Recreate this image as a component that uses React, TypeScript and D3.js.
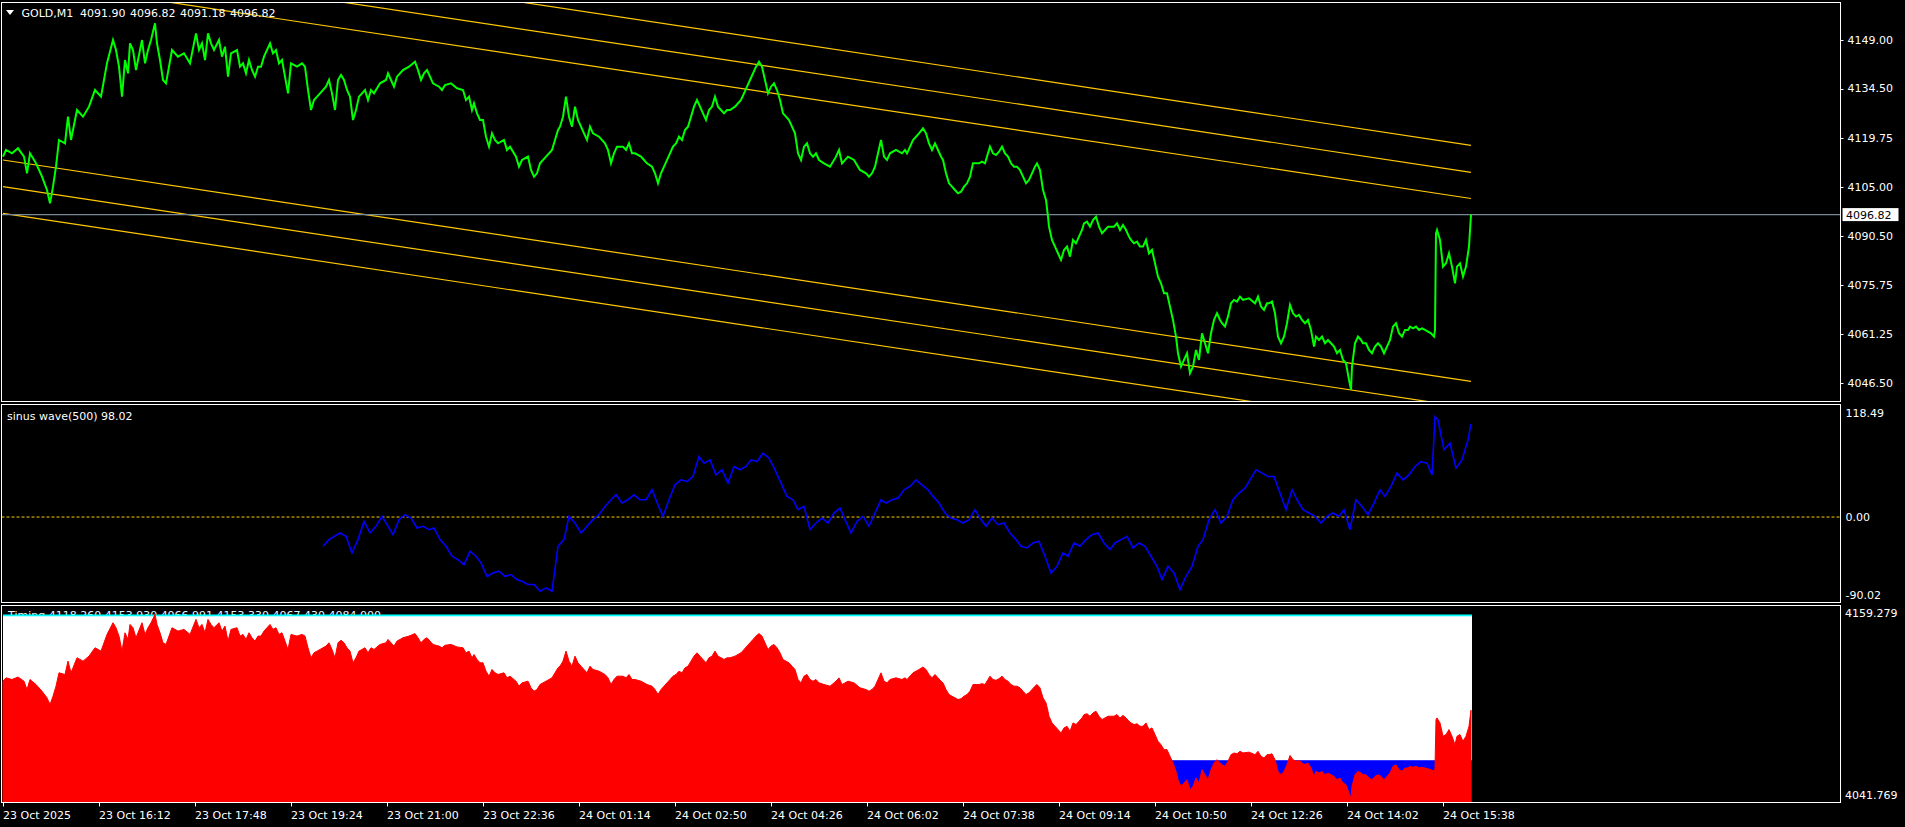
import React, { useEffect } from 'react';
import * as d3 from 'd3';

// ---------- DATA ----------
const LAST_BAR = 1468; // M1 bars, bar 0 = 23 Oct 14:36

const priceSeries: [number, number][] = [
  [0,4114.14],[3,4116.13],[9,4115.13],[15,4116.63],[21,4114.14],[24,4109.16],[27,4115.13],[33,4112.15],[39,4108.16],[44,4104.18],[47,4100.19],[50,4105.17],[53,4111.15],[56,4119.12],[62,4118.12],[65,4126.09],[68,4119.12],[74,4128.08],[80,4126.09],[86,4129.08],[92,4134.06],[98,4132.07],[104,4142.03],[110,4149.00],[113,4146.01],[116,4141.03],[119,4132.07],[122,4143.02],[125,4139.04],[127,4148.00],[130,4146.01],[133,4140.03],[139,4149.00],[142,4142.03],[145,4146.01],[148,4149.00],[152,4153.98],[154,4148.00],[157,4143.02],[160,4137.05],[163,4136.05],[166,4141.03],[169,4146.01],[175,4144.02],[181,4145.01],[187,4142.03],[193,4150.99],[196,4146.01],[199,4148.00],[202,4143.02],[205,4150.99],[208,4148.00],[211,4146.01],[216,4149.00],[219,4144.02],[222,4147.01],[225,4138.04],[228,4145.01],[234,4146.01],[237,4141.03],[240,4142.03],[243,4139.04],[246,4143.02],[249,4140.03],[252,4138.04],[255,4141.03],[258,4141.03],[261,4144.02],[267,4148.00],[270,4145.01],[273,4146.01],[276,4142.03],[279,4143.02],[282,4138.04],[285,4133.06],[288,4142.03],[294,4141.03],[299,4142.03],[302,4141.03],[305,4134.06],[308,4128.08],[311,4131.07],[317,4133.06],[323,4135.05],[326,4137.05],[329,4133.06],[332,4128.08],[335,4137.05],[338,4138.54],[341,4137.05],[344,4134.06],[347,4132.07],[350,4125.09],[353,4128.08],[356,4132.07],[359,4133.06],[362,4134.06],[365,4131.07],[368,4134.06],[371,4133.06],[377,4136.05],[383,4137.05],[385,4139.04],[388,4137.05],[391,4135.05],[394,4138.04],[397,4139.04],[400,4140.03],[406,4141.03],[412,4142.52],[415,4140.03],[418,4137.05],[421,4139.04],[424,4140.03],[427,4138.04],[430,4136.05],[436,4135.05],[439,4134.06],[442,4135.55],[448,4136.05],[454,4134.56],[460,4134.06],[463,4131.07],[466,4132.07],[469,4128.08],[471,4130.07],[474,4127.08],[477,4125.09],[480,4125.09],[483,4120.11],[486,4117.12],[489,4121.11],[492,4119.12],[495,4118.12],[501,4119.12],[504,4116.13],[507,4117.12],[513,4114.14],[516,4111.15],[519,4113.14],[525,4114.14],[528,4110.15],[531,4108.16],[534,4109.16],[537,4112.15],[543,4114.14],[546,4115.13],[549,4116.13],[552,4119.12],[555,4122.10],[557,4123.10],[560,4126.09],[563,4132.07],[566,4126.09],[569,4123.10],[572,4129.08],[575,4125.09],[578,4123.10],[581,4121.11],[584,4119.12],[587,4123.10],[590,4121.11],[596,4120.11],[602,4118.12],[605,4116.13],[608,4112.15],[611,4115.13],[614,4117.12],[620,4117.12],[623,4116.13],[626,4118.12],[629,4115.13],[632,4115.13],[638,4114.14],[641,4113.14],[644,4112.15],[649,4111.15],[652,4109.16],[655,4106.17],[658,4109.16],[661,4111.15],[667,4115.13],[670,4117.12],[673,4118.12],[676,4120.11],[679,4119.12],[682,4122.10],[685,4123.10],[688,4126.09],[691,4129.08],[694,4131.07],[697,4129.08],[700,4127.08],[703,4125.09],[706,4128.08],[709,4129.08],[712,4132.07],[715,4129.08],[718,4128.08],[721,4127.08],[724,4128.08],[727,4128.08],[732,4129.08],[738,4131.07],[741,4133.06],[744,4135.05],[747,4137.05],[750,4139.04],[753,4141.03],[756,4142.52],[759,4141.03],[762,4137.05],[765,4133.06],[768,4135.05],[771,4136.05],[774,4134.06],[777,4131.07],[780,4127.08],[783,4126.09],[786,4125.09],[789,4123.10],[792,4121.11],[795,4115.13],[798,4113.14],[801,4117.12],[804,4118.12],[807,4115.13],[810,4114.14],[813,4115.13],[816,4113.14],[821,4112.15],[827,4111.15],[833,4114.14],[836,4116.13],[839,4112.15],[845,4114.14],[851,4113.14],[857,4110.15],[863,4109.16],[866,4108.16],[869,4109.16],[872,4111.15],[875,4115.13],[878,4119.12],[881,4114.14],[884,4113.14],[887,4115.13],[893,4116.13],[899,4115.13],[902,4116.13],[904,4115.13],[910,4119.12],[916,4121.11],
  [920,4122.60],[923,4121.11],[926,4118.12],[929,4116.13],[932,4118.12],[935,4116.13],[938,4114.14],[940,4113.14],[943,4109.16],[946,4106.17],[949,4105.17],[952,4104.18],[955,4103.18],[958,4103.68],[961,4105.17],[964,4106.17],[967,4108.16],[970,4112.15],[973,4112.15],[976,4112.15],[979,4112.65],[982,4112.15],[985,4115.13],[987,4117.12],[990,4115.13],[993,4114.63],[996,4115.63],[999,4117.12],[1002,4115.13],[1005,4114.14],[1008,4112.15],[1011,4111.15],[1014,4111.15],[1017,4110.15],[1020,4108.16],[1023,4106.17],[1026,4107.17],[1029,4109.16],[1032,4111.15],[1034,4112.15],[1037,4110.15],[1040,4104.18],[1043,4101.19],[1045,4096.20],[1046,4093.22],[1049,4089.24],[1052,4087.25],[1055,4085.26],[1058,4083.26],[1061,4086.25],[1064,4087.25],[1067,4084.26],[1070,4089.24],[1073,4088.24],[1076,4090.23],[1079,4092.22],[1081,4094.21],[1084,4094.71],[1087,4093.22],[1090,4095.21],[1093,4096.20],[1096,4093.22],[1099,4091.23],[1102,4092.22],[1105,4093.22],[1111,4093.22],[1114,4094.21],[1117,4092.22],[1120,4093.72],[1123,4092.22],[1126,4090.23],[1128,4089.24],[1131,4088.24],[1134,4088.74],[1137,4087.25],[1140,4087.25],[1143,4089.24],[1146,4085.26],[1149,4086.25],[1152,4082.27],[1155,4078.28],[1158,4076.29],[1161,4073.30],[1164,4073.30],[1167,4069.32],[1170,4065.33],[1173,4060.35],[1175,4055.37],[1178,4051.39],[1181,4053.38],[1184,4055.37],[1187,4049.40],[1190,4051.39],[1193,4056.37],[1196,4053.38],[1199,4061.35],[1202,4058.36],[1205,4055.37],[1208,4061.35],[1211,4065.33],[1214,4067.32],[1217,4065.33],[1219,4064.34],[1222,4063.34],[1225,4066.33],[1228,4070.31],[1231,4071.31],[1234,4070.81],[1237,4072.31],[1240,4071.31],[1246,4071.81],[1252,4070.31],[1255,4072.31],[1258,4069.32],[1261,4068.32],[1264,4070.31],[1266,4070.31],[1269,4070.81],[1272,4067.32],[1275,4060.35],[1278,4058.36],[1281,4060.35],[1284,4064.34],[1287,4069.82],[1290,4067.32],[1293,4066.33],[1296,4066.83],[1299,4065.33],[1302,4064.34],[1305,4065.33],[1308,4062.35],[1311,4057.36],[1313,4060.35],[1316,4059.35],[1319,4060.35],[1322,4058.36],[1325,4059.35],[1328,4058.36],[1331,4057.36],[1334,4055.37],[1337,4056.37],[1340,4053.38],[1343,4052.39],[1346,4047.41],[1348,4044.42],[1349,4051.39],[1352,4058.36],[1355,4060.35],[1358,4059.35],[1360,4058.36],[1363,4058.36],[1366,4056.37],[1369,4055.37],[1372,4057.36],[1375,4058.36],[1378,4057.36],[1381,4055.37],[1384,4057.36],[1387,4059.35],[1390,4063.34],[1393,4064.34],[1396,4061.35],[1399,4060.35],[1402,4062.35],[1405,4062.35],[1407,4063.34],[1410,4062.84],[1413,4063.34],[1416,4062.35],[1419,4062.84],[1422,4062.35],[1425,4061.85],[1428,4061.35],[1431,4060.35],[1432,4062.35],[1433,4091.23],[1434,4092.22],[1437,4089.24],[1440,4081.27],[1443,4082.27],[1446,4085.26],[1449,4081.27],[1452,4076.29],[1454,4081.27],[1457,4082.27],[1460,4078.28],[1463,4081.27],[1466,4087.25],[1468,4096.82]
];

const sinusSeries: [number, number][] = [
  [320,-30.8],[326,-23.8],[332,-20.0],[337,-16.8],[343,-20.3],[349,-37.8],[355,-23.8],[361,-4.6],[367,-16.8],[373,-9.8],[379,0.7],[384,-8.1],[390,-18.6],[396,-2.8],[402,2.4],[408,-1.1],[414,-11.6],[420,-9.8],[426,-13.3],[431,-11.6],[437,-23.8],[443,-30.8],[449,-41.3],[455,-44.8],[461,-50.1],[467,-36.1],[473,-41.3],[478,-48.3],[484,-62.4],[490,-58.9],[496,-57.1],[502,-62.4],[508,-60.6],[514,-65.9],[519,-67.6],[525,-71.1],[531,-71.1],[537,-78.1],[543,-74.6],[549,-78.1],[555,-30.8],[561,-23.8],[566,0.7],[572,-6.3],[578,-16.8],[584,-9.8],[590,-2.8],[596,2.4],[602,11.2],[608,18.2],[613,23.4],[619,14.7],[625,18.2],[631,23.4],[637,18.2],[643,18.2],[649,28.7],[655,12.9],[660,0.7],[666,18.2],[672,33.9],[678,39.2],[684,37.4],[690,42.7],[696,63.7],[701,56.7],[707,60.2],[713,44.4],[719,49.7],[725,35.7],[731,53.2],[737,49.7],[743,53.2],[748,60.2],[754,58.4],[760,67.2],[766,61.9],[772,49.7],[778,35.7],[784,21.7],[790,18.2],[795,7.7],[801,11.2],[807,-13.3],[813,-6.3],[819,-1.1],[825,-6.3],[831,4.2],[837,9.4],[842,-2.8],[848,-16.8],[854,-4.6],[860,0.7],[866,-9.8],[872,4.2],[878,18.2],[883,14.7],[889,18.2],[895,19.9],[901,28.7],[907,32.2],[913,39.2],[919,33.9],[925,28.7],[930,21.7],[936,14.7],[942,4.2],[948,-1.1],[954,-2.8],[960,-6.3],[966,-2.8],[972,7.7],[977,-1.1],[983,-9.8],[989,-1.1],[995,-8.1],[1001,-6.3],[1007,-16.8],[1013,-23.8],[1018,-30.8],[1024,-32.6],[1030,-27.3],[1036,-25.6],[1042,-41.3],[1048,-58.9],[1054,-51.9],[1060,-37.8],[1065,-41.3],[1071,-27.3],[1077,-30.8],[1083,-23.8],[1089,-18.6],[1095,-16.8],[1101,-27.3],[1107,-34.3],[1112,-27.3],[1118,-23.8],[1124,-20.3],[1130,-32.6],[1136,-27.3],[1142,-30.8],[1148,-41.3],[1154,-51.9],[1159,-65.9],[1165,-51.9],[1171,-58.9],[1177,-76.4],[1183,-62.4],[1189,-51.9],[1195,-30.8],[1200,-23.8],[1206,-2.8],[1212,7.7],[1218,-6.3],[1224,0.7],[1230,18.2],[1236,25.2],[1242,30.4],[1247,39.2],[1253,49.7],[1259,46.2],[1265,42.7],[1271,42.7],[1277,25.2],[1283,7.7],[1289,28.7],[1294,18.2],[1300,7.7],[1306,4.2],[1312,0.7],[1318,-6.3],[1324,0.7],[1330,4.2],[1336,0.7],[1341,7.7],[1347,-13.3],[1353,18.2],[1359,11.2],[1365,2.4],[1371,14.7],[1377,28.7],[1382,21.7],[1388,32.2],[1394,46.2],[1400,39.2],[1406,44.4],[1412,53.2],[1418,58.4],[1424,56.7],[1429,44.4],[1432,105.7],[1435,102.2],[1441,70.7],[1447,77.7],[1453,51.4],[1459,60.2],[1465,81.2],[1468,98.02]
];

const timeTickBars = [0, 96, 192, 288, 384, 480, 576, 672, 768, 864, 960, 1056, 1152, 1248, 1344, 1440];
const timeTickLabels = [
  '23 Oct 2025', '23 Oct 16:12', '23 Oct 17:48', '23 Oct 19:24', '23 Oct 21:00', '23 Oct 22:36',
  '24 Oct 01:14', '24 Oct 02:50', '24 Oct 04:26', '24 Oct 06:02', '24 Oct 07:38', '24 Oct 09:14',
  '24 Oct 10:50', '24 Oct 12:26', '24 Oct 14:02', '24 Oct 15:38'
];
const priceTicks = [4149.0, 4134.5, 4119.75, 4105.0, 4090.5, 4075.75, 4061.25, 4046.5];
const mainRange = [4040.81, 4160.36];
const channelStart = [4183.69, 4175.62, 4167.79, 4113.14, 4105.16, 4097.21];
const channelEnd = [4117.53, 4109.46, 4101.63, 4046.98, 4039.0, 4031.05];
const symbol = 'GOLD,M1';
const ohlc = ['4091.90', '4096.82', '4091.18', '4096.82'];
const lastPrice = 4096.82;
const sinusName = 'sinus wave(500)';
const sinusLast = 98.02;
const sinusRange = [-90.02, 118.49];
const timingValues = [4118.26, 4153.93, 4066.991, 4153.33, 4067.43, 4084.0];
const timingRange = [4041.769, 4159.279];

// ---------- LAYOUT ----------
const W = 1905, H = 827;
const L = 1.5, R = 1840.5;
const MAIN = { top: 2.5, bottom: 401.5 };
const SUB = { top: 404.5, bottom: 602.5 };
const BOT = { top: 605.5, bottom: 802.5 };
const FONT = "'DejaVu Sans', sans-serif";

export default function App() {
  useEffect(() => {
    document.body.style.margin = '0';
    document.body.style.background = '#000';
  }, []);

  const x = d3.scaleLinear().domain([0, LAST_BAR]).range([3, 1471]);
  const yMain = d3.scaleLinear().domain(mainRange).range([402, 2]);
  const ySub = d3.scaleLinear().domain(sinusRange).range([SUB.bottom, SUB.top]);
  const yBot = d3.scaleLinear().domain(timingRange).range([BOT.bottom, BOT.top]);

  const priceLine = d3.line<[number, number]>().x(d => x(d[0])).y(d => yMain(d[1]))(priceSeries) || '';
  const sinusLine = d3.line<[number, number]>().x(d => x(d[0])).y(d => ySub(d[1]))(sinusSeries) || '';
  const redArea = d3.area<[number, number]>()
    .x(d => x(d[0]))
    .y0(BOT.bottom)
    .y1(d => yBot(d[1]))(priceSeries) || '';

  const x0 = x(0), x1 = x(LAST_BAR) + 1;
  const yLast = yMain(lastPrice);
  const txt = { fontFamily: FONT, fontSize: 11, fill: '#fff' } as const;

  return (
    <svg width={W} height={H} style={{ display: 'block', position: 'absolute', left: 0, top: 0, background: '#000' }}>
      <defs>
        <clipPath id="clipMain"><rect x={L + 0.5} y={MAIN.top + 0.5} width={R - L - 1} height={MAIN.bottom - MAIN.top - 1} /></clipPath>
        <clipPath id="clipSub"><rect x={L + 0.5} y={SUB.top + 0.5} width={R - L - 1} height={SUB.bottom - SUB.top - 1} /></clipPath>
        <clipPath id="clipBot"><rect x={L + 0.5} y={BOT.top + 0.5} width={R - L - 1} height={BOT.bottom - BOT.top - 1} /></clipPath>
      </defs>
      <rect x={0} y={0} width={W} height={H} fill="#000" />

      {/* MAIN PANEL */}
      <g clipPath="url(#clipMain)">
        {channelStart.map((p, i) => (
          <line key={i} x1={x(0)} y1={yMain(p)} x2={x(LAST_BAR)} y2={yMain(channelEnd[i])} stroke="#ffc800" strokeWidth={1.2} />
        ))}
        <line x1={L} x2={R} y1={yLast} y2={yLast} stroke="#778899" strokeWidth={1.2} />
        <path d={priceLine} fill="none" stroke="#00ff00" strokeWidth={2} strokeLinejoin="miter" />
      </g>
      <polygon points="6,10 14,10 10,15" fill="#fff" />
      <text x={21.5} y={16.5} {...txt}>{symbol}</text>
      {ohlc.map((v, i) => (
        <text key={i} x={80 + i * 50} y={16.5} {...txt}>{v}</text>
      ))}
      <rect x={L} y={MAIN.top} width={R - L} height={MAIN.bottom - MAIN.top} fill="none" stroke="#fff" strokeWidth={1} />
      {priceTicks.map(p => (
        <g key={p}>
          <line x1={R} x2={R + 3} y1={Math.round(yMain(p)) + 0.5} y2={Math.round(yMain(p)) + 0.5} stroke="#fff" />
          <text x={1847.5} y={yMain(p)} dy="0.36em" {...txt}>{p.toFixed(2)}</text>
        </g>
      ))}
      <rect x={1842.5} y={yLast - 6.5} width={56} height={13} fill="#fff" />
      <text x={1846} y={yLast} dy="0.36em" fontFamily={FONT} fontSize={11} fill="#000">{lastPrice.toFixed(2)}</text>

      {/* SUB PANEL */}
      <g clipPath="url(#clipSub)">
        <line x1={L} x2={R} y1={ySub(0)} y2={ySub(0)} stroke="#ffcc00" strokeWidth={1} strokeDasharray="3,2" />
        <path d={sinusLine} fill="none" stroke="#0000ff" strokeWidth={1.6} />
      </g>
      <text x={7} y={420} {...txt}>{`${sinusName} ${sinusLast.toFixed(2)}`}</text>
      <rect x={L} y={SUB.top} width={R - L} height={SUB.bottom - SUB.top} fill="none" stroke="#fff" strokeWidth={1} />
      <text x={1845.5} y={SUB.top + 9} dy="0.36em" {...txt}>{sinusRange[1].toFixed(2)}</text>
      <text x={1845.5} y={ySub(0)} dy="0.36em" {...txt}>{(0).toFixed(2)}</text>
      <text x={1845.5} y={SUB.bottom - 7} dy="0.36em" {...txt}>{sinusRange[0].toFixed(2)}</text>

      {/* BOTTOM PANEL */}
      <text x={8} y={619} fontFamily={FONT} fontSize={11} fill="#e8f4ff">
        {`Timing ${timingValues.map(v => v.toFixed(3)).join(' ')}`}
      </text>
      <g clipPath="url(#clipBot)">
        <rect x={x0} y={yBot(timingValues[1])} width={x1 - x0} height={BOT.bottom - yBot(timingValues[1])} fill="#00ffff" />
        <rect x={x0} y={yBot(timingValues[3]) + 0.8} width={x1 - x0} height={BOT.bottom - yBot(timingValues[3])} fill="#ffffff" />
        <rect x={x0} y={yBot(timingValues[2])} width={x1 - x0} height={BOT.bottom - yBot(timingValues[2])} fill="#0000ff" />
        <path d={redArea} fill="#ff0000" stroke="#ff0000" strokeWidth={1} />
      </g>
      <rect x={L} y={BOT.top} width={R - L} height={BOT.bottom - BOT.top} fill="none" stroke="#fff" strokeWidth={1} />
      <text x={1845} y={BOT.top + 8} dy="0.36em" {...txt}>{timingRange[1].toFixed(3)}</text>
      <text x={1845} y={BOT.bottom - 7} dy="0.36em" {...txt}>{timingRange[0].toFixed(3)}</text>

      {/* TIME AXIS */}
      {timeTickBars.map((b, i) => (
        <g key={b}>
          <line x1={Math.round(x(b)) + 0.5} x2={Math.round(x(b)) + 0.5} y1={BOT.bottom} y2={BOT.bottom + 4} stroke="#fff" />
          <text x={x(b)} y={815} dy="0.36em" {...txt}>{timeTickLabels[i]}</text>
        </g>
      ))}
    </svg>
  );
}
